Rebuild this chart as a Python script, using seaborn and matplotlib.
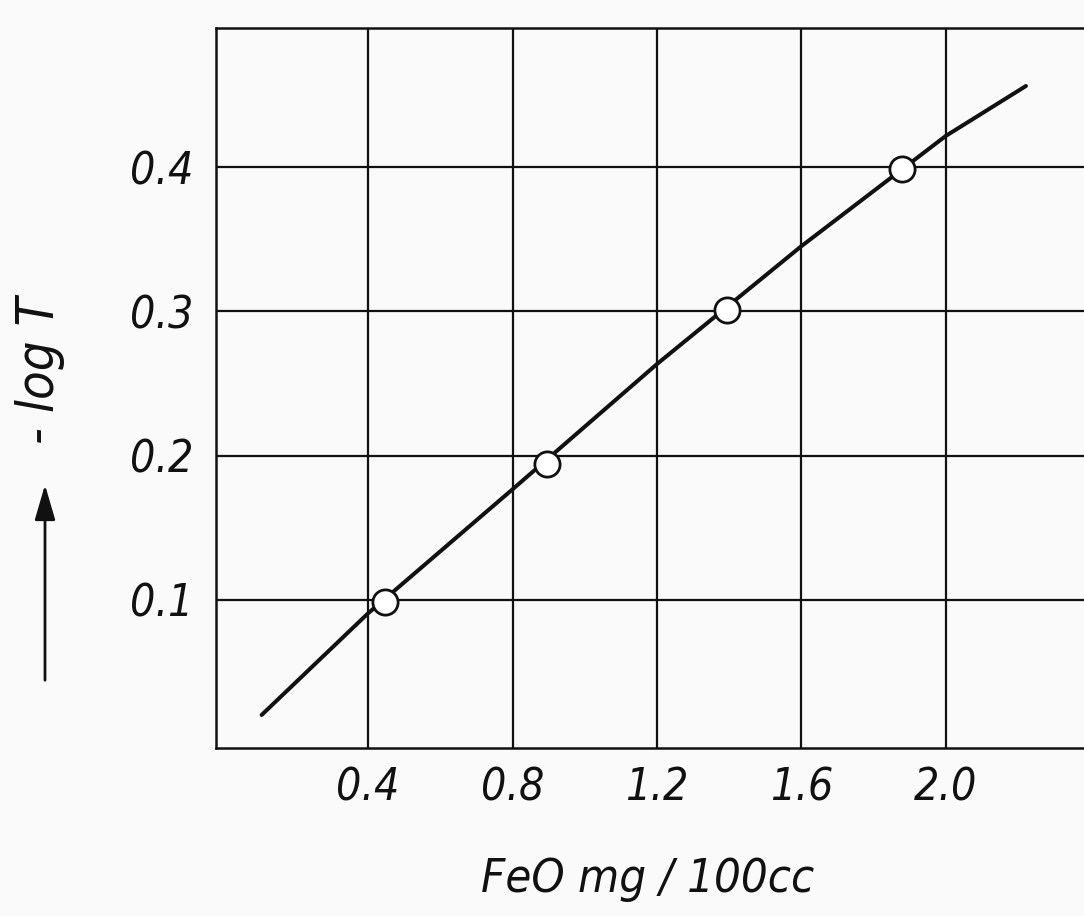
import matplotlib
matplotlib.use("Agg")
import matplotlib.pyplot as plt
import matplotlib.font_manager as fm
import seaborn as sns
import pandas as pd

# Data
feo_mg = [0.447, 0.894, 1.395, 1.880]
neg_log_t = [0.0988, 0.194, 0.301, 0.3985]
curve_x = [0.105, 0.400, 0.800, 1.200, 1.598, 2.000, 2.222]
curve_y = [0.0203, 0.0908, 0.1767, 0.2635, 0.3448, 0.4216, 0.4562]
x_ticks = [0.4, 0.8, 1.2, 1.6, 2.0]
x_tick_labels = ["0.4", "0.8", "1.2", "1.6", "2.0"]
y_ticks = [0.1, 0.2, 0.3, 0.4]
y_tick_labels = ["0.1", "0.2", "0.3", "0.4"]

sns.set_style("white")

# pick a narrow font if one is installed
available = {f.name for f in fm.fontManager.ttflist}
stretches = {(f.name, f.stretch) for f in fm.fontManager.ttflist}
stretch = "normal"
if "Liberation Sans Narrow" in available:
    family, scale = "Liberation Sans Narrow", 1.0
elif any(n == "DejaVu Sans" and s in ("condensed", 300, "semi-condensed") for n, s in stretches):
    family, scale, stretch = "DejaVu Sans", 0.94, "condensed"
elif "Liberation Sans" in available:
    family, scale = "Liberation Sans", 0.9
else:
    family, scale = "DejaVu Sans", 0.85
plt.rcParams['font.family'] = [family, 'DejaVu Sans']
plt.rcParams['font.stretch'] = stretch

W, H = 1084, 916
fig = plt.figure(figsize=(W / 100, H / 100), dpi=100)
bg = "#fafafa"
fig.patch.set_facecolor(bg)
ax = fig.add_axes([216 / W, (H - 748) / H, (1092 - 216) / W, (748 - 28) / H])
ax.set_facecolor(bg)

ink = "#111111"
pts = pd.DataFrame({"x": feo_mg, "y": neg_log_t})
curve = pd.DataFrame({"x": curve_x, "y": curve_y})

sns.lineplot(data=curve, x="x", y="y", ax=ax, color=ink, linewidth=2.9,
             sort=True, zorder=3)
sns.scatterplot(data=pts, x="x", y="y", ax=ax, s=330, facecolor="white",
                edgecolor=ink, linewidth=2.0, zorder=4)

ax.set_xlim(-0.0215, 2.405)
ax.set_ylim(-0.0026, 0.4964)
ax.set_xticks(x_ticks)
ax.set_xticklabels(x_tick_labels)
ax.set_yticks(y_ticks)
ax.set_yticklabels(y_tick_labels)
ax.tick_params(axis="both", length=0, labelsize=34 * scale, colors=ink)
ax.tick_params(axis="x", pad=13)
ax.tick_params(axis="y", pad=16)
for lab in ax.get_xticklabels() + ax.get_yticklabels():
    lab.set_style("italic")

ax.grid(True, color=ink, linewidth=1.6)
for side in ["left", "bottom", "top", "right"]:
    ax.spines[side].set_color(ink)
    ax.spines[side].set_linewidth(1.8)

ax.set_xlabel("")
ax.set_ylabel("")
fig.text(648 / W, 1 - 880 / H, "FeO mg / 100cc", ha="center", va="center",
         fontsize=36 * scale, style="italic", color=ink)
fig.text(40 / W, 1 - 370 / H, "- log T", ha="center", va="center",
         rotation=90, fontsize=40 * scale, style="italic", color=ink)
fig.add_artist(matplotlib.patches.FancyArrowPatch(
    (45 / W, 1 - 683 / H), (45 / W, 1 - 482 / H), transform=fig.transFigure,
    arrowstyle="-|>,head_length=1.2,head_width=0.35", mutation_scale=18,
    color=ink, linewidth=2.0))

fig.savefig("out.png", dpi=100, facecolor=bg)
